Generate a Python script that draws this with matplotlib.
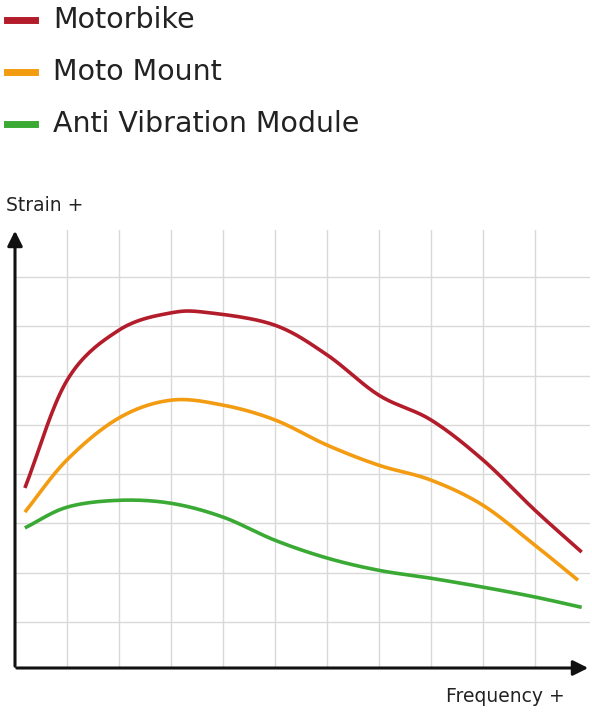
import numpy as np
import matplotlib.pyplot as plt

# values (grid units)
red_x = [0.19, 1, 2, 3, 3.75, 5, 6, 7, 8, 9, 10, 10.9]
red_y = [3.72, 5.90, 6.92, 7.27, 7.27, 7.02, 6.42, 5.60, 5.10, 4.29, 3.27, 2.42]
orange_x = [0.19, 1, 2, 3, 4, 5, 6, 7, 8, 9, 10, 10.83]
orange_y = [3.23, 4.29, 5.14, 5.50, 5.40, 5.10, 4.59, 4.18, 3.88, 3.37, 2.56, 1.85]
green_x = [0.19, 1, 2, 3, 4, 5, 6, 7, 8, 9, 10, 10.9]
green_y = [2.91, 3.33, 3.47, 3.41, 3.13, 2.66, 2.30, 2.05, 1.89, 1.71, 1.51, 1.30]
labels = ["Motorbike", "Moto Mount", "Anti Vibration Module"]
colors = ["#b31d2b", "#f39c12", "#3aaa35"]

plt.rcParams['font.family'] = ['DejaVu Sans']


def smooth(x, y, n=20):
    # Catmull-Rom curve through the points, only for drawing
    x = np.asarray(x, float); y = np.asarray(y, float)
    px = np.concatenate([[2*x[0]-x[1]], x, [2*x[-1]-x[-2]]])
    py = np.concatenate([[2*y[0]-y[1]], y, [2*y[-1]-y[-2]]])
    t = np.linspace(0, 1, n, endpoint=False)[:, None]
    ox, oy = [], []
    for i in range(1, len(px)-2):
        for p, out in ((px, ox), (py, oy)):
            p0, p1, p2, p3 = p[i-1], p[i], p[i+1], p[i+2]
            v = 0.5*((2*p1) + (-p0+p2)*t + (2*p0-5*p1+4*p2-p3)*t**2 + (-p0+3*p1-3*p2+p3)*t**3)
            out.extend(v.ravel())
    ox.append(x[-1]); oy.append(y[-1])
    return ox, oy


fig = plt.figure(figsize=(5.92, 7.12), dpi=100)
ax = fig.add_axes([15/592, 44/712, 575/592, 438/712])
ax.set_xlim(0, 11.06)
ax.set_ylim(0.07, 8.95)
for s in ax.spines.values():
    s.set_visible(False)
ax.set_xticks(range(1, 11))
ax.set_yticks(range(1, 9))
ax.tick_params(length=0, labelbottom=False, labelleft=False)
ax.grid(True, color="#d9d9d9", linewidth=1.0)

for xs, ys, c in zip([red_x, orange_x, green_x], [red_y, orange_y, green_y], colors):
    sx, sy = smooth(xs, ys)
    ax.plot(sx, sy, color=c, linewidth=2.6, solid_capstyle='butt')

# axis arrows
arrow = dict(arrowstyle='-|>,head_length=0.9,head_width=0.45', color='#111111', lw=2.2)
ax.annotate('', xy=(15/592, 1-228/712), xytext=(15/592, 1-669/712),
            xycoords='figure fraction', arrowprops=arrow)
ax.annotate('', xy=(591/592, 1-668/712), xytext=(14/592, 1-668/712),
            xycoords='figure fraction', arrowprops=arrow)

fig.text(6/592, 1-205/712, "Strain +", fontsize=13.5, va='center', color='#222222')
fig.text(565/592, 1-697/712, "Frequency +", fontsize=13.5, va='center', ha='right', color='#222222')

# legend at top
for i, (lab, c) in enumerate(zip(labels, colors)):
    yy = 1 - (20 + i*52)/712
    fig.lines.append(plt.Line2D([7/592, 35/592], [yy, yy], transform=fig.transFigure,
                                color=c, linewidth=5))
    fig.text(53/592, yy, lab, fontsize=20.5, va='center', color='#222222')

fig.savefig("out.png", dpi=100)
